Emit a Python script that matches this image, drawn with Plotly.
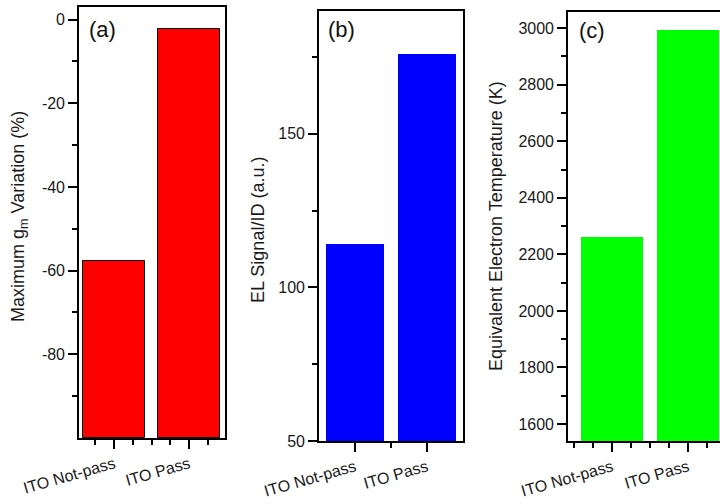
import plotly.graph_objects as go

# Data
categories = ["ITO Not-pass", "ITO Pass"]
gm_variation = [-57.6, -2.2]          # Maximum gm variation (%)
el_signal = [114.3, 176.0]            # EL Signal/ID (a.u.)
electron_temp = [2260, 2993]          # Equivalent electron temperature (K)

gm_ticks = [-80, -60, -40, -20, 0]
el_ticks = [50, 100, 150]
temp_ticks = [1600, 1800, 2000, 2200, 2400, 2600, 2800, 3000]

W, H = 720, 504
FONT = "Liberation Sans, Arial, sans-serif"
positions = [1, 2]


def px_x(x):
    return x / W


def px_y(y):
    return 1 - y / H


fig = go.Figure()

# (a) bars grow up from the bottom of the axis
base_a = -100
fig.add_trace(go.Bar(
    x=positions, y=[v - base_a for v in gm_variation], base=base_a,
    width=0.82, marker=dict(color="#ff0000", line=dict(color="black", width=1)),
    xaxis="x", yaxis="y", hoverinfo="skip", showlegend=False))

fig.add_trace(go.Bar(
    x=positions, y=el_signal, width=0.8,
    marker=dict(color="#0000ff", line=dict(width=0)),
    xaxis="x2", yaxis="y2", hoverinfo="skip", showlegend=False))

fig.add_trace(go.Bar(
    x=positions, y=electron_temp, width=0.82,
    marker=dict(color="#00ff00", line=dict(width=0)),
    xaxis="x3", yaxis="y3", hoverinfo="skip", showlegend=False))

tickfont = dict(family=FONT, size=16, color="#1a1a1a")
common_x = dict(showline=True, linecolor="black", linewidth=1.6,
                ticks="outside", ticklen=9, tickwidth=1.5, tickcolor="black",
                tickmode="array", tickvals=positions, ticktext=categories,
                tickangle=-16, tickfont=tickfont, showgrid=False,
                zeroline=False, automargin=False, fixedrange=True)
common_y = dict(showline=True, linecolor="black", linewidth=1.6,
                ticks="outside", ticklen=9, tickwidth=1.5, tickcolor="black",
                tickmode="array", tickfont=tickfont, showgrid=False,
                zeroline=False, automargin=False, fixedrange=True)
minor_style = dict(ticks="outside", ticklen=5, tickwidth=1.5, tickcolor="black",
                   showgrid=False)


def labels(vals):
    return [str(v) for v in vals]


fig.update_layout(
    width=W, height=H, margin=dict(l=0, r=0, t=0, b=0),
    paper_bgcolor="white", plot_bgcolor="white", bargap=0,
    xaxis=dict(common_x, domain=[px_x(79), px_x(225)], range=[0.53, 2.48],
               mirror=True, anchor="y",
               minor=dict(minor_style, tickmode="array",
                          tickvals=[0.75, 1.25, 1.5, 1.75, 2.25])),
    yaxis=dict(common_y, domain=[px_y(438), px_y(7)], range=[-100, 3],
               mirror=True, anchor="x",
               tickvals=gm_ticks, ticktext=labels(gm_ticks),
               minor=dict(minor_style, tickmode="array",
                          tickvals=[-90, -70, -50, -30, -10])),
    xaxis2=dict(common_x, domain=[px_x(319), px_x(463)], range=[0.5, 2.5],
                mirror=True, anchor="y2",
                minor=dict(minor_style, tickmode="array", tickvals=[1.5])),
    yaxis2=dict(common_y, domain=[px_y(441), px_y(11)], range=[50, 190],
                mirror=True, anchor="x2",
                tickvals=el_ticks, ticktext=labels(el_ticks),
                minor=dict(minor_style, tickmode="array",
                           tickvals=[75, 125, 175])),
    xaxis3=dict(common_x, domain=[px_x(568), 1.0], range=[0.42, 2.42],
                mirror=True, anchor="y3",
                minor=dict(minor_style, tickmode="array",
                           tickvals=[0.5, 0.75, 1.25, 1.5, 1.75, 2.25])),
    yaxis3=dict(common_y, domain=[px_y(441), px_y(12)], range=[1540, 3057],
                mirror=False, anchor="x3",
                tickvals=temp_ticks, ticktext=labels(temp_ticks),
                minor=dict(minor_style, tickmode="array",
                           tickvals=list(range(1700, 3000, 200)))),
)

title_font = dict(family=FONT, size=18, color="#1a1a1a")
axis_titles = [
    ("Maximum g<sub>m</sub> Variation (%)", 19, 217),
    ("EL Signal/ID (a.u.)", 258, 230),
    ("Equivalent Electron Temperature (K)", 496, 226),
]
for text, x, y in axis_titles:
    fig.add_annotation(text=text, x=px_x(x), y=px_y(y), xref="paper", yref="paper",
                       textangle=-90, showarrow=False, font=title_font,
                       xanchor="center", yanchor="middle")

letter_font = dict(family=FONT, size=22, color="#111111")
for text, x, y in [("(a)", 87, 29), ("(b)", 326, 29), ("(c)", 577, 30)]:
    fig.add_annotation(text=text, x=px_x(x), y=px_y(y), xref="paper", yref="paper",
                       showarrow=False, font=letter_font,
                       xanchor="left", yanchor="middle")

fig.write_html("out.html", config=dict(displayModeBar=False))
